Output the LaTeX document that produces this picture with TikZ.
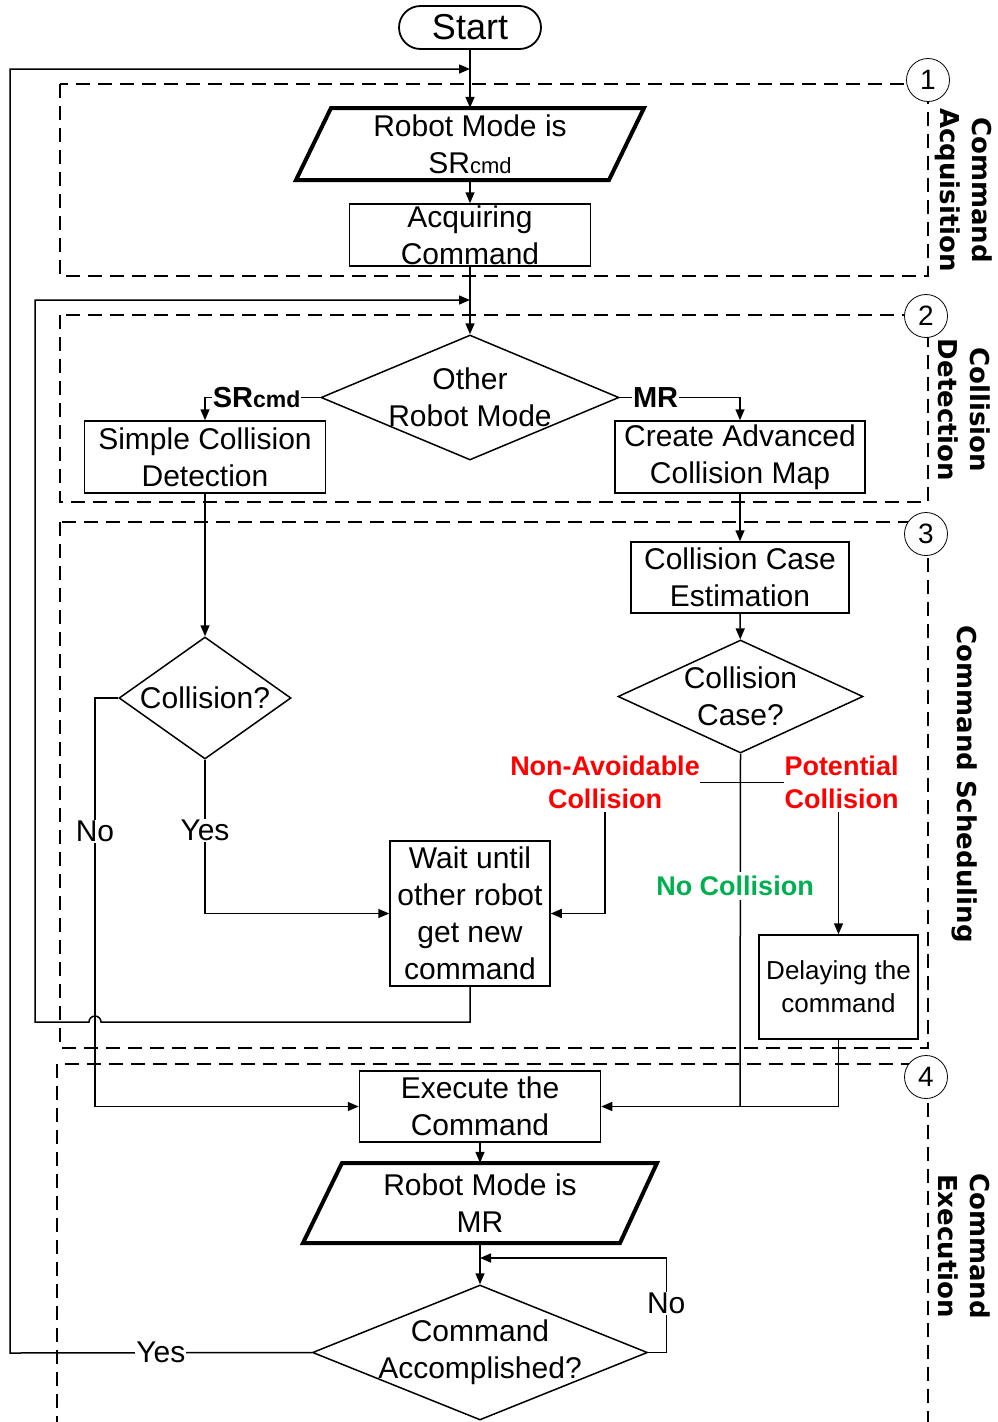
\documentclass[tikz,border=0pt]{standalone}
\usepackage{fontspec}
\setmainfont{Liberation Sans}
\newfontfamily\sidefont{DejaVu Sans}
\usetikzlibrary{arrows.meta,shapes.geometric}
\definecolor{nogreen}{RGB}{0,176,80}
\newcommand{\fs}[2]{\fontsize{#1}{#2}\selectfont}

\tikzset{
  proc/.style={draw, line width=1.5pt, inner sep=0pt, fill=white},
  dia/.style={draw, diamond, line width=1.5pt, inner sep=0pt, fill=white},
  txt/.style={align=center, inner sep=0pt, font=\fs{30}{37}},
  conn/.style={line width=1.5pt},
  arr/.style={conn, -{Triangle[length=11pt,width=9pt]}},
  dashbox/.style={line width=2pt, dash pattern=on 14pt off 8pt},
  num/.style={circle, draw, line width=0.8pt, fill=white, minimum size=43pt,
              inner sep=0pt, font=\fs{28}{28}},
  side/.style={rotate=-90, align=center, inner sep=0pt,
               font=\sidefont\bfseries\fs{26}{32}},
  lab/.style={fill=white, inner sep=1pt, font=\fs{30}{30}},
  boldlab/.style={fill=white, inner sep=1pt, font=\bfseries\fs{29}{29}},
  casered/.style={align=center, inner xsep=0pt, inner ysep=3pt,
                  text=red, font=\bfseries\fs{27}{33}},
  casegreen/.style={fill=white, inner xsep=0pt, inner ysep=4pt,
                    text=nogreen, font=\bfseries\fs{27}{27}},
}

\begin{document}
\begin{tikzpicture}[x=1pt, y=-1pt]
\useasboundingbox (0,0) rectangle (997,1422);

% phase frames
\draw[dashbox] (60,84) rectangle (928,276);
\draw[dashbox] (60,315) rectangle (928,502);
\draw[dashbox] (60,522) rectangle (928,1048);
\draw[dashbox] (57,1430) -- (57,1064) -- (928,1064) -- (928,1430);
\node[num] (n1) at (928,80) {1};
\node[num] (n2) at (926,316) {2};
\node[num] (n3) at (926,534) {3};
\node[num] (n4) at (926,1077) {4};

% phase titles
\node[side] (t1) at (964,190) {Command\\Acquisition};
\node[side] (t2) at (964,410) {Collision\\Detection};
\node[side] (t3) at (965,784) {Command Scheduling};
\node[side] (t4) at (964,1246) {Command\\Execution};

% start
\node[draw, line width=1.8pt, rounded corners=21.5pt, minimum width=142pt,
      minimum height=43pt, inner sep=0pt, font=\fs{36}{40}] (start) at (470,27.5) {Start};

% phase 1
\draw[line width=4pt, line join=miter] (331,108) -- (644,108) -- (609,180) -- (296,180) -- cycle;
\node[minimum width=313pt, minimum height=72pt, inner sep=0pt,
      label={[txt]center:Robot Mode is\\SR{\fs{22}{22}cmd}}] (mode1) at (470,144) {};
\node[proc, minimum width=241pt, minimum height=62pt,
      label={[txt]center:Acquiring\\Command}] (acq) at (470,235) {};

% phase 2
\node[dia, minimum width=298pt, minimum height=125pt,
      label={[txt]center:Other\\Robot Mode}] (other) at (470,397.5) {};
\node[proc, minimum width=241pt, minimum height=72pt,
      label={[txt]center:Simple Collision\\Detection}] (simple) at (205,457) {};
\node[proc, minimum width=250pt, minimum height=72pt,
      label={[txt]center:Create Advanced\\Collision Map}] (create) at (740,457) {};

% phase 3
\node[proc, minimum width=218pt, minimum height=71pt,
      label={[txt]center:Collision Case\\Estimation}] (caseest) at (740,577.5) {};
\node[dia, minimum width=172pt, minimum height=122pt,
      label={[txt]center:Collision?}] (col1) at (205,698) {};
\node[dia, minimum width=245pt, minimum height=113pt,
      label={[txt]center:Collision\\Case?}] (caseq) at (740.5,696.5) {};
\node[proc, minimum width=160pt, minimum height=145pt,
      label={[txt]center:Wait until\\other robot\\get new\\command}] (wait) at (470,913.5) {};
\node[proc, minimum width=159pt, minimum height=104pt,
      label={[txt, font=\fs{26}{33}]center:Delaying the\\command}] (delay) at (838.5,987) {};
\node[casered] (navoid) at (605,782.5) {Non-Avoidable\\Collision};
\node[casered] (pot) at (841.5,782.5) {Potential\\Collision};

% phase 4
\node[proc, minimum width=241pt, minimum height=71pt,
      label={[txt]center:Execute the\\Command}] (exec) at (480,1106.5) {};
\draw[line width=4pt, line join=miter] (342,1163) -- (657,1163) -- (620,1243) -- (303,1243) -- cycle;
\node[minimum width=315pt, minimum height=80pt, inner sep=0pt,
      label={[txt]center:Robot Mode is\\MR}] (mode2) at (480,1203) {};
\node[dia, minimum width=335pt, minimum height=135pt,
      label={[txt]center:Command\\Accomplished?}] (acc) at (480,1352.5) {};

% junction points
\coordinate (topj) at (470,69);
\coordinate (midj) at (470,300);
\coordinate (yesc) at (10,1353);
\coordinate (noc) at (95,698);
\coordinate (wret) at (470,1022);
\coordinate (hopR) at (101,1022);
\coordinate (retL) at (35,1022);
\coordinate (nocj) at (740,1106.5);
\coordinate (noj) at (480,1258);

% connectors
\draw[arr] (start) -- (mode1);
\draw[arr] (mode1) -- (acq);
\draw[arr] (acq) -- (other);
\draw[arr] (other.west) -| node[pos=0.276, boldlab] {SR{\fs{23}{23}cmd}} (simple.north);
\draw[arr] (other.east) -| node[pos=0.149, boldlab] {MR} (create.north);
\draw[arr] (simple) -- (col1);
\draw[arr] (create) -- (caseest);
\draw[arr] (caseest) -- (caseq);
\draw[arr] (col1.south) |- node[pos=0.23, lab] {Yes} (wait.west);
\draw[arr] (col1.west) -- (noc) |- node[pos=0.163, lab] {No} (exec.west);
\draw[arr] (wait.south) -- (wret) -- (hopR) arc[start angle=0, end angle=-180, radius=6]
      -- (retL) |- (midj);
\draw[conn] (navoid.east) -- (pot.west);
\draw[arr] (navoid.south) |- (wait.east);
\draw[arr] (pot.south -| delay.north) -- (delay.north);
\draw[conn] (caseq.south) -- (nocj);
\node[casegreen] (nocol) at (735,886) {No Collision};
\draw[arr] (delay.south) |- (exec.east);
\draw[arr] (exec) -- (mode2);
\draw[arr] (mode2) -- (acc);
\draw[arr] (acc.east) -- ++(18,0) |- node[pos=0.258, lab] {No} (noj);
\draw[arr] (acc.west) -- node[pos=0.5, lab] {Yes} (yesc) |- (topj);
\end{tikzpicture}
\end{document}
